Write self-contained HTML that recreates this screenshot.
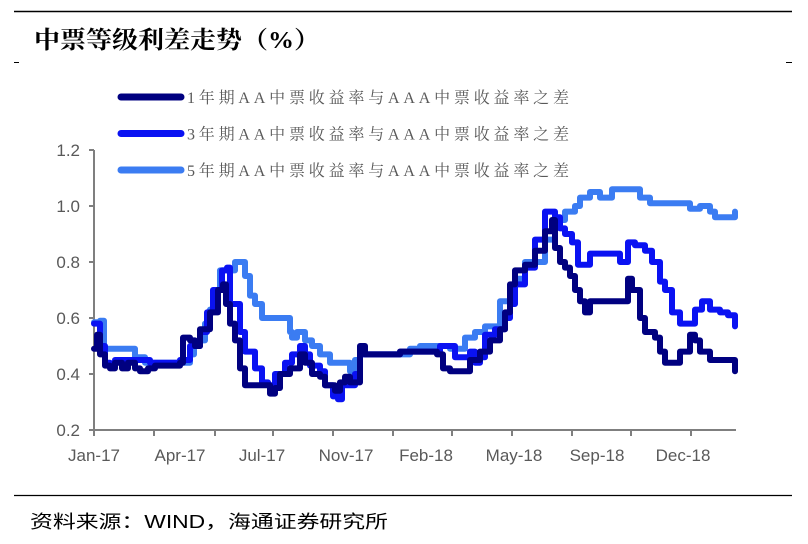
<!DOCTYPE html>
<html><head><meta charset="utf-8"><style>
body{margin:0;background:#fff;}
svg text{font-family:"Liberation Sans","Noto Sans CJK SC",sans-serif;}
</style></head><body>
<svg width="808" height="539" viewBox="0 0 808 539">
<line x1="14" y1="11.5" x2="792" y2="11.5" stroke="#000" stroke-width="1.5"/>
<text x="34" y="48" font-size="24" font-weight="bold" fill="#000" textLength="286" lengthAdjust="spacingAndGlyphs" style="font-family:'Liberation Serif','Noto Serif CJK SC',serif">中票等级利差走势（%）</text>
<line x1="14" y1="62.5" x2="19" y2="62.5" stroke="#000"/>
<line x1="786" y1="62.5" x2="792" y2="62.5" stroke="#000"/>
<line x1="14" y1="495.5" x2="792" y2="495.5" stroke="#000" stroke-width="1.2"/>
<text x="30" y="528" font-size="18" fill="#000" textLength="358" lengthAdjust="spacingAndGlyphs">资料来源：WIND，海通证券研究所</text>
<g id="axes"></g>
<g id="series"></g>
<g id="legend"></g>
</svg>
<script>
const yTicks=[0.2,0.4,0.6,0.8,1.0,1.2];
const yTickLabels=["0.2","0.4","0.6","0.8","1.0","1.2"];
const xTickPos=[0,60,121,179,239,299,358,418,478,537,597];
const xLabels=["Jan-17","Apr-17","Jul-17","Nov-17","Feb-18","May-18","Sep-18","Dec-18"];
const xLabelPos=[0,86,168,252,332,420,503,589];
const seriesNames=["1年期AA中票收益率与AAA中票收益率之差","3年期AA中票收益率与AAA中票收益率之差","5年期AA中票收益率与AAA中票收益率之差"];
const t5=[0,6,10,39,41,51,89,96,100,106,111,116,121,126,141,146,151,156,161,168,196,198,203,211,218,226,236,251,256,261,266,306,316,326,351,356,366,371,381,391,406,416,421,431,441,451,461,471,481,486,496,501,506,516,518,541,546,556,586,596,606,616,621,636,641];
const v5=[0.585,0.59,0.49,0.49,0.46,0.44,0.44,0.47,0.5,0.52,0.58,0.63,0.7,0.77,0.8,0.8,0.75,0.68,0.65,0.6,0.55,0.53,0.55,0.52,0.5,0.47,0.44,0.44,0.41,0.45,0.47,0.47,0.49,0.5,0.5,0.49,0.49,0.53,0.55,0.57,0.66,0.66,0.74,0.8,0.8,0.88,0.95,0.98,1.0,1.03,1.05,1.05,1.03,1.03,1.06,1.06,1.03,1.01,1.01,0.99,1.0,0.98,0.96,0.96,0.98];
const t3=[0,6,11,16,21,56,86,96,106,113,
119,128,133,136,146,151,161,168,174,181,
191,198,206,211,216,226,231,239,244,248,
261,266,306,346,361,376,381,386,391,401,
411,416,421,431,441,451,461,466,471,478,
484,496,526,534,541,551,558,566,571,578,
586,601,608,616,626,634,641];
const v3=[0.58,0.5,0.44,0.43,0.45,0.44,0.45,0.5,0.55,0.62,
0.7,0.77,0.78,0.65,0.55,0.48,0.42,0.37,0.36,0.4,
0.44,0.47,0.5,0.47,0.43,0.41,0.36,0.32,0.31,0.36,
0.4,0.47,0.48,0.5,0.46,0.48,0.44,0.46,0.54,0.56,
0.6,0.65,0.72,0.78,0.88,0.98,0.96,0.92,0.9,0.87,
0.79,0.83,0.8,0.87,0.86,0.84,0.8,0.73,0.7,0.62,
0.58,0.63,0.66,0.63,0.62,0.61,0.57];
const t1=[0,3,6,11,16,21,28,34,41,46,54,61,86,89,96,101,106,116,124,129,132,136,141,146,151,168,176,181,186,196,206,211,218,226,231,241,246,251,256,266,271,281,306,326,343,349,356,371,376,386,396,406,411,416,421,431,441,451,458,461,466,471,476,481,486,491,496,526,534,538,546,551,561,566,571,581,586,596,601,606,616,631,641];
const v1=[0.49,0.54,0.47,0.43,0.42,0.44,0.42,0.44,0.42,0.41,0.42,0.43,0.44,0.53,0.52,0.5,0.56,0.62,0.7,0.72,0.65,0.58,0.52,0.42,0.36,0.36,0.33,0.35,0.4,0.42,0.47,0.44,0.4,0.39,0.36,0.34,0.37,0.39,0.37,0.5,0.47,0.47,0.48,0.48,0.47,0.42,0.41,0.41,0.45,0.48,0.52,0.56,0.62,0.72,0.77,0.79,0.84,0.91,0.95,0.85,0.8,0.78,0.75,0.7,0.66,0.62,0.66,0.66,0.74,0.7,0.6,0.55,0.53,0.48,0.44,0.44,0.48,0.54,0.52,0.48,0.45,0.45,0.41];
const colors=["#000080","#0a12f2","#3b7cf2"];
const X0=94,Y0=430,Y1=150;
const xs=t=>X0+t;
const ys=v=>Y0-(v-0.2)/(1.0)*(Y0-Y1);
const NS="http://www.w3.org/2000/svg";
function mk(tag,attrs,parent){const e=document.createElementNS(NS,tag);for(const k in attrs)e.setAttribute(k,attrs[k]);parent.appendChild(e);return e;}
const axes=document.getElementById("axes");
let yl=mk("line",{x1:X0,y1:Y1,x2:X0,y2:Y0,stroke:"#7f7f7f","stroke-width":2},axes);


let xl=mk("line",{x1:X0,y1:Y0,x2:X0+642,y2:Y0,stroke:"#7f7f7f","stroke-width":2},axes);


yTicks.forEach((v,i)=>{
 let tk=mk("line",{x1:X0-5,y1:ys(v),x2:X0,y2:ys(v),stroke:"#7f7f7f","stroke-width":2},axes);
 
 
 let tx=mk("text",{x:X0-14,y:ys(v)+6,"text-anchor":"end","font-size":17,fill:"#595959"},axes);
 tx.textContent=yTickLabels[i];
 
 
});
xTickPos.forEach(t=>{
 let tk=mk("line",{x1:xs(t),y1:Y0,x2:xs(t),y2:Y0+6,stroke:"#7f7f7f","stroke-width":2},axes);
 
 
});
xLabels.forEach((l,i)=>{
 let tx=mk("text",{x:xs(xLabelPos[i]),y:Y0+31,"text-anchor":"middle","font-size":17,fill:"#595959"},axes);
 tx.textContent=l;
 
 
});
const sg=document.getElementById("series");
function stepPath(ts,vs){let d="M"+xs(ts[0])+","+ys(vs[0]);for(let i=1;i<ts.length;i++){d+=" L"+xs(ts[i])+","+ys(vs[i-1])+" L"+xs(ts[i])+","+ys(vs[i]);}return d;}
[[t5,v5,2],[t3,v3,1],[t1,v1,0]].forEach(([t,v,ci])=>{
 let p=mk("path",{d:stepPath(t,v),fill:"none",stroke:colors[ci],"stroke-width":6,"stroke-linejoin":"round","stroke-linecap":"round"},sg);
 
 
});
const lg=document.getElementById("legend");
seriesNames.forEach((n,i)=>{
 const y=97+i*36.5;
 let ln=mk("line",{x1:121,y1:y,x2:181,y2:y,stroke:colors[i],"stroke-width":7,"stroke-linecap":"round"},lg);
 
 
 let tx=mk("text",{x:187,y:y+6,"font-size":16,fill:"#595959",textLength:382,lengthAdjust:"spacing",style:"font-family:'Liberation Serif','Noto Serif CJK SC',serif"},lg);
 tx.textContent=n;
 
 
});
</script>
</body></html>
